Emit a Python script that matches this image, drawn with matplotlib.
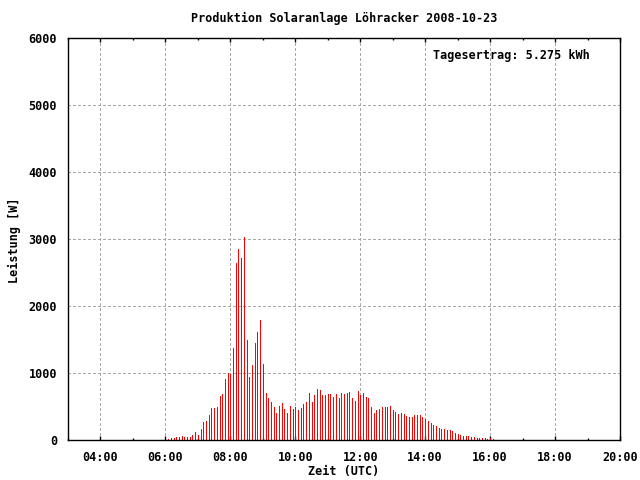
import matplotlib
matplotlib.use("Agg")
import matplotlib.pyplot as plt
from matplotlib.ticker import MultipleLocator, FuncFormatter
import numpy as np

# 5-minute samples, 06:05 .. 16:05 UTC
start_hour = 6 + 5 / 60
step_min = 5
power_w = [
    15, 30, 35, 45, 45, 60, 45, 45, 45, 75, 120, 75,
    165, 270, 285, 375, 480, 480, 490, 655, 685, 910, 1000, 990,
    1373, 2642, 2851, 2716, 3030, 1493, 940, 1120, 1448, 1612, 1791, 1134,
    701, 627, 567, 493, 403, 507, 552, 463, 403, 507, 463, 500,
    448, 478, 537, 567, 701, 567, 672, 761, 746, 672, 672, 687,
    687, 642, 687, 627, 701, 687, 701, 716, 627, 582, 731, 672,
    701, 642, 627, 493, 403, 448, 463, 493, 493, 493, 507, 448,
    418, 388, 403, 388, 358, 343, 343, 373, 373, 373, 343, 313,
    284, 254, 224, 209, 179, 164, 164, 149, 149, 134, 104, 90,
    75, 60, 60, 60, 45, 45, 30, 30, 30, 30, 15, 30, 15,
]
title = "Produktion Solaranlage Löhracker 2008-10-23"
yield_text = "Tagesertrag: 5.275 kWh"

hours = start_hour + np.arange(len(power_w)) * step_min / 60

font = {"family": "DejaVu Sans Mono", "weight": "bold", "size": 8.5}

fig = plt.figure(figsize=(6.4, 4.8), dpi=100)
W, H = 640, 480
ax = fig.add_axes([68 / W, 1 - 440 / H, (620 - 68) / W, (440 - 38) / H])

ax.vlines(hours, 0, power_w, color="#ff0000", linewidth=0.5, antialiased=False)

ax.set_xlim(3, 20)
ax.set_ylim(0, 6000)

ax.xaxis.set_major_locator(MultipleLocator(2))
ax.xaxis.set_minor_locator(MultipleLocator(1))
ax.yaxis.set_major_locator(MultipleLocator(1000))
ax.xaxis.set_major_formatter(FuncFormatter(lambda v, p: "%02d:00" % int(round(v))))

ax.tick_params(axis="x", which="major", direction="in", length=3, width=1,
               top=True, bottom=True, pad=8)
ax.tick_params(axis="x", which="minor", direction="in", length=1.5, width=1,
               top=True, bottom=True)
ax.tick_params(axis="y", which="both", length=0, pad=8)
for lab in ax.get_xticklabels() + ax.get_yticklabels():
    lab.set_fontfamily(font["family"])
    lab.set_fontweight("bold")
    lab.set_fontsize(font["size"])

ax.grid(True, which="major", color="#a8a8a8", linestyle=(0, (3, 3)),
        linewidth=0.5, antialiased=False)
ax.set_axisbelow(True)
for s in ax.spines.values():
    s.set_linewidth(1.0)
    s.set_color("black")

fig.text(0.5 * (68 + 620) / W, 1 - 18 / H, title, ha="center", va="center", **font)
fig.text(433 / W, 1 - 56 / H, yield_text, ha="left", va="center", **font)
fig.text(344 / W, 1 - 472 / H, "Zeit (UTC)", ha="center", va="center", **font)
fig.text(14 / W, 1 - 240 / H, "Leistung [W]", ha="center", va="center",
         rotation=90, **font)

fig.savefig("out.png", dpi=100)
